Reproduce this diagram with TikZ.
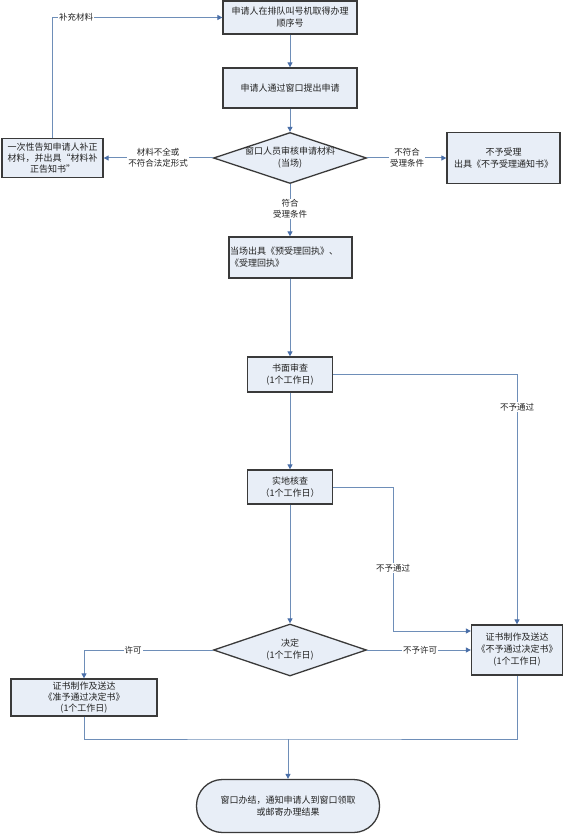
\documentclass[tikz,border=0pt]{standalone}
\usepackage{fontspec}
\setmainfont{Noto Sans CJK SC}
\usetikzlibrary{shapes.geometric,arrows.meta}
\definecolor{boxfill}{HTML}{E8EEF7}
\definecolor{boxline}{HTML}{3A3A3A}
\definecolor{connc}{HTML}{6E8EB8}
\definecolor{tipc}{HTML}{4A6FA8}
\definecolor{txtc}{HTML}{222222}
\begin{document}
\begin{tikzpicture}[x=1pt,y=-1pt,
 box/.style={draw=boxline,fill=boxfill,line width=1.3pt,inner sep=1pt,align=center,text=txtc,font=\fontsize{9}{12}\selectfont},
 dia/.style={draw=boxline,fill=boxfill,line width=1.3pt,diamond,inner sep=0pt},
 txt/.style={font=\fontsize{9}{12}\selectfont,align=center,inner sep=1pt,text=txtc},
 lbl/.style={fill=white,font=\fontsize{8.5}{11}\selectfont,align=center,inner sep=1pt,text=txtc},
 conn/.style={draw=connc,line width=1pt},
 arr/.style={conn,-{Triangle[length=5pt,width=5pt,color=tipc]}}
]
\useasboundingbox[fill=white] (0,0) rectangle (566,834);

% nodes
\node[box,minimum width=134pt,minimum height=33pt] (b1) at (290,17.5) {申请人在排队叫号机取得办理\\顺序号};
\node[box,minimum width=134pt,minimum height=40pt] (b2) at (290,88) {申请人通过窗口提出申请};
\node[dia,minimum width=153pt,minimum height=51pt] (d1) at (290,158) {};
\node[txt] (d1t) at (d1) {窗口人员审核申请材料\\(当场)};
\node[box,minimum width=113pt,minimum height=51pt] (rx) at (503.5,158) {不予受理\\出具《不予受理通知书》};
\node[box,minimum width=101pt,minimum height=39pt,font=\fontsize{9}{11}\selectfont] (lb) at (52.5,158) {一次性告知申请人补正\\材料，并出具“材料补\\正告知书”};
\node[box,minimum width=123pt,minimum height=41pt,text width=121pt,align=left,inner sep=0pt] (b3) at (290.5,257.5) {当场出具《预受理回执》、\\《受理回执》};
\node[box,minimum width=85pt,minimum height=35pt] (b4) at (290,374.5) {书面审查\\(1个工作日)};
\node[box,minimum width=85pt,minimum height=34pt] (b5) at (290,487) {实地核查\\（1个工作日）};
\node[dia,minimum width=153pt,minimum height=52pt] (d2) at (290,650) {};
\node[txt] (d2t) at (d2) {决定\\(1个工作日)};
\node[box,minimum width=91pt,minimum height=50pt] (rb) at (517,650) {证书制作及送达\\《不予通过决定书》\\(1个工作日)};
\node[box,minimum width=146pt,minimum height=37pt,font=\fontsize{9}{11}\selectfont] (lbb) at (84,697.5) {证书制作及送达\\《准予通过决定书》\\(1个工作日)};
\node[box,rounded corners=26pt,minimum width=183pt,minimum height=53pt] (term) at (288,806) {窗口办结，通知申请人到窗口领取\\或邮寄办理结果};

% connectors
\draw[arr] (b1) -- (b2);
\draw[arr] (b2) -- (d1);
\draw[arr] (d1.east) -- (rx.west);
\node[lbl] (l1) at (407,158) {不符合\\受理条件};
\draw[arr] (d1.west) -- (lb.east);
\node[lbl] (l2) at (158,158) {材料不全或\\不符合法定形式};
\draw[arr] (lb.north) |- (b1.west);
\node[lbl] (l3) at (76,17.5) {补充材料};
\draw[arr] (d1.south) -- (d1.south |- b3.north);
\node[lbl] (l4) at (290,209) {符合\\受理条件};
\draw[arr] (b3.south -| b4.north) -- (b4.north);
\draw[arr] (b4) -- (b5);
\draw[arr] (b4.east) -| (rb.north);
\node[lbl] (l5) at (517,407) {不予通过};
\coordinate (c1) at (393,631);
\draw[arr] (b5.east) -| (c1) -- (c1 -| rb.west);
\node[lbl] (l6) at (393,568) {不予通过};
\draw[arr] (b5) -- (d2);
\draw[arr] (d2.east) -- (rb.west);
\node[lbl] (l7) at (420,650) {不予许可};
\draw[arr] (d2.west) -| (lbb.north);
\node[lbl] (l8) at (133,650) {许可};
\coordinate (m) at (288,739);
\draw[conn] (lbb.south) |- (m) -| (rb.south);
\draw[arr] (m) -- (term.north);
\end{tikzpicture}
\end{document}
